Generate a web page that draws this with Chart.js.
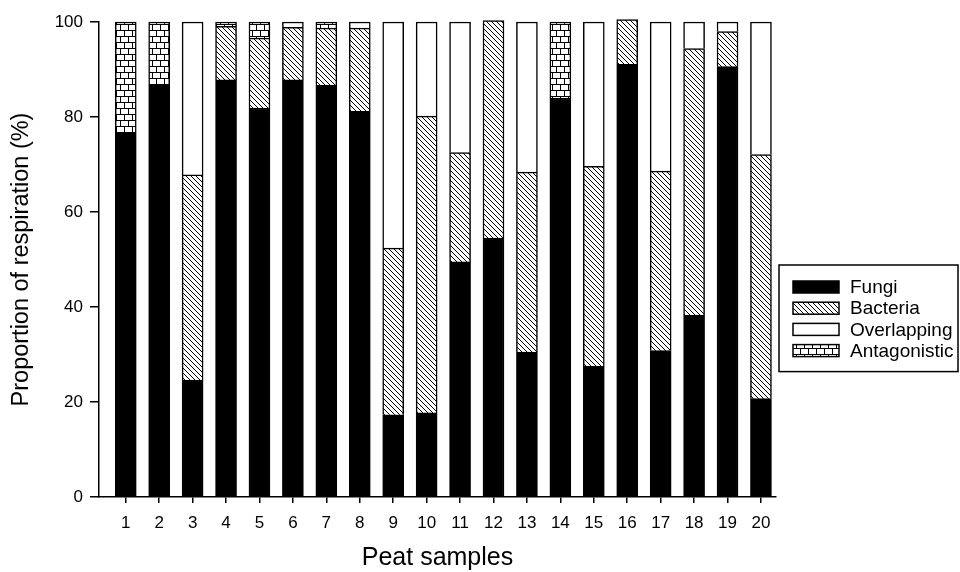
<!DOCTYPE html>
<html>
<head>
<meta charset="utf-8">
<script src="https://cdn.jsdelivr.net/npm/chart.js@4"></script>
<style>
  html, body { margin: 0; padding: 0; background: #ffffff; }
  #wrap { width: 960px; height: 572px; position: relative; }
</style>
</head>
<body>
<div id="wrap"><canvas id="chart"></canvas></div>
<script>
// Peat samples and the share of respiration attributed to each group (%)
const samples = [1, 2, 3, 4, 5, 6, 7, 8, 9, 10, 11, 12, 13, 14, 15, 16, 17, 18, 19, 20];
const fungi        = [76.6, 86.7, 24.6, 87.8, 81.9, 87.8, 86.7, 81.2, 17.3, 17.7, 49.5, 54.5, 30.5, 84.0, 27.5, 91.1, 30.8, 38.3, 90.6, 20.7];
const bacteria     = [null, null, 43.2, 11.3, 14.7, 11.1, 12.0, 17.5, 35.1, 62.5, 23.0, 45.8, 37.9, null, 42.1, 9.4, 37.8, 56.1, 7.4, 51.4];
const overlapping  = [null, null, 32.2, null, null, 1.1, null, 1.3, 47.6, 19.8, 27.5, null, 31.6, null, 30.4, null, 31.4, 5.6, 2.0, 27.9];
const antagonistic = [23.4, 13.3, null, 0.9, 3.4, null, 1.3, null, null, null, null, null, null, 16.0, null, null, null, null, null, null];
const yTicks = [0, 20, 40, 60, 80, 100];
const seriesNames = ['Fungi', 'Bacteria', 'Overlapping', 'Antagonistic'];

const FONT = '"Liberation Sans", Arial, Helvetica, sans-serif';

// Fill patterns: diagonal hatching and brick work
function hatchPattern() {
  const s = 5;
  const c = document.createElement('canvas');
  c.width = s; c.height = s;
  const g = c.getContext('2d');
  g.fillStyle = '#ffffff';
  g.fillRect(0, 0, s, s);
  g.strokeStyle = '#000000';
  g.lineWidth = 1;
  g.beginPath();
  g.moveTo(-1, -1); g.lineTo(s + 1, s + 1);
  g.moveTo(-1, s - 1); g.lineTo(1, s + 1);
  g.moveTo(s - 1, -1); g.lineTo(s + 1, 1);
  g.stroke();
  return g.createPattern(c, 'repeat');
}

function brickPattern() {
  const w = 8, h = 12;
  const c = document.createElement('canvas');
  c.width = w; c.height = h;
  const g = c.getContext('2d');
  g.fillStyle = '#ffffff';
  g.fillRect(0, 0, w, h);
  g.strokeStyle = '#000000';
  g.lineWidth = 1;
  g.beginPath();
  g.moveTo(0, 0.5); g.lineTo(w, 0.5);
  g.moveTo(0, 6.5); g.lineTo(w, 6.5);
  g.moveTo(0.5, 0); g.lineTo(0.5, 6);
  g.moveTo(4.5, 6); g.lineTo(4.5, 12);
  g.stroke();
  return g.createPattern(c, 'repeat');
}

const fills = ['#000000', hatchPattern(), '#ffffff', brickPattern()];
const seriesValues = [fungi, bacteria, overlapping, antagonistic];

// Boxed legend to the right of the plot
const boxedLegend = {
  id: 'boxedLegend',
  afterDraw(chart, args, opts) {
    const { ctx, chartArea } = chart;
    const left = chartArea.right + opts.gap;
    const top = opts.top;
    const ds = chart.data.datasets;
    const height = opts.padTop + (ds.length - 1) * opts.rowH + opts.padBottom;
    ctx.save();
    ctx.lineWidth = 1.5;
    ctx.strokeStyle = '#000000';
    ctx.strokeRect(left, top, opts.width, height);
    ctx.font = opts.fontSize + 'px ' + FONT;
    ctx.textBaseline = 'middle';
    ctx.textAlign = 'left';
    ds.forEach((d, i) => {
      const cy = top + opts.padTop + i * opts.rowH;
      const sx = left + opts.swatchX;
      const sy = cy - opts.swatchH / 2;
      ctx.fillStyle = d.backgroundColor;
      ctx.fillRect(sx, sy, opts.swatchW, opts.swatchH);
      ctx.lineWidth = 1.5;
      ctx.strokeStyle = '#000000';
      ctx.strokeRect(sx, sy, opts.swatchW, opts.swatchH);
      ctx.fillStyle = '#000000';
      ctx.fillText(d.label, sx + opts.swatchW + opts.textGap, cy + 1);
    });
    ctx.restore();
  }
};

const datasets = seriesNames.map((name, i) => ({
  label: name,
  data: seriesValues[i],
  backgroundColor: fills[i],
  borderColor: '#000000',
  borderWidth: 1.5,
  barThickness: 21,
  clip: false
}));

new Chart(document.getElementById('chart'), {
  type: 'bar',
  data: { labels: samples, datasets },
  plugins: [boxedLegend],
  options: {
    responsive: true,
    maintainAspectRatio: false,
    animation: false,
    layout: { padding: { top: 22, right: 184, bottom: 0, left: 0 } },
    plugins: {
      legend: { display: false },
      tooltip: { enabled: false },
      boxedLegend: {
        gap: 3, top: 265, width: 179,
        padTop: 22, rowH: 21.2, padBottom: 21,
        swatchX: 14, swatchW: 46, swatchH: 12, textGap: 11, fontSize: 19
      }
    },
    scales: {
      x: {
        type: 'linear',
        stacked: true,
        offset: false,
        min: 0.2,
        max: 20.45,
        afterBuildTicks: (axis) => { axis.ticks = samples.map(v => ({ value: v })); },
        afterFit: (scale) => { scale.height = 75; },
        grid: { offset: false, drawOnChartArea: false, drawTicks: true, tickLength: 6, color: '#000000', lineWidth: 1.5 },
        border: { display: true, color: '#000000', width: 1.5 },
        ticks: { color: '#000000', font: { family: FONT, size: 17 }, padding: 10, autoSkip: false, maxRotation: 0 },
        title: { display: true, text: 'Peat samples', color: '#000000', font: { family: FONT, size: 25 }, padding: { top: 0, bottom: -1 } }
      },
      y: {
        stacked: true,
        min: 0,
        max: 100,
        afterBuildTicks: (axis) => { axis.ticks = yTicks.map(v => ({ value: v })); },
        afterFit: (scale) => { scale.width = 99; },
        grid: { drawOnChartArea: false, drawTicks: true, tickLength: 9, color: '#000000', lineWidth: 1.5 },
        border: { display: true, color: '#000000', width: 1.5 },
        ticks: { color: '#000000', font: { family: FONT, size: 17 }, padding: 7 },
        title: { display: true, text: 'Proportion of respiration (%)', color: '#000000', font: { family: FONT, size: 23.5 }, padding: { top: 7, bottom: 0 } }
      }
    }
  }
});
</script>
</body>
</html>
